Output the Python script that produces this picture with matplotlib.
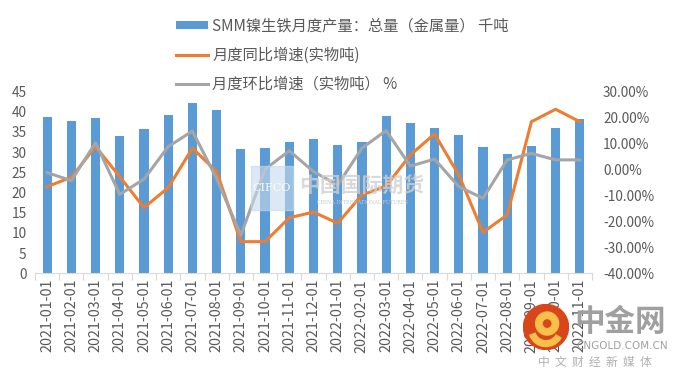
import matplotlib
matplotlib.use("Agg")
import matplotlib.pyplot as plt
from matplotlib.ticker import FuncFormatter, MultipleLocator
from matplotlib.patches import Circle, Rectangle, Wedge
import numpy as np

plt.rcParams['font.family'] = ['Noto Sans CJK SC', 'DejaVu Sans']

months = ["2021-01-01", "2021-02-01", "2021-03-01", "2021-04-01", "2021-05-01", "2021-06-01",
          "2021-07-01", "2021-08-01", "2021-09-01", "2021-10-01", "2021-11-01", "2021-12-01",
          "2022-01-01", "2022-02-01", "2022-03-01", "2022-04-01", "2022-05-01", "2022-06-01",
          "2022-07-01", "2022-08-01", "2022-09-01", "2022-10-01", "2022-11-01"]
# 千吨（金属量）
output_kt = [38.6, 37.8, 38.4, 33.9, 35.8, 39.1, 42.1, 40.5, 30.7, 31.1, 32.4, 33.2,
             31.8, 32.6, 39.0, 37.3, 36.1, 34.3, 31.2, 29.6, 31.6, 35.9, 38.2]
# 同比 %
yoy_pct = [-6.6, -3.0, 8.8, -2.8, -14.7, -7.0, 8.2, -0.8, -27.8, -27.8, -18.6, -16.4,
           -20.7, -9.8, -6.4, 5.6, 13.7, -2.1, -24.2, -17.5, 18.4, 23.2, 18.4]
# 环比 %
mom_pct = [-1.2, -4.3, 10.3, -9.6, -3.7, 8.8, 14.8, -3.5, -25.3, 0.1, 7.2, -0.8,
           -6.0, 8.2, 15.0, 1.3, 4.0, -6.6, -11.1, 3.7, 6.2, 3.7, 3.7]

label_bar = "SMM镍生铁月度产量：总量（金属量） 千吨"
label_yoy = "月度同比增速(实物吨)"
label_mom = "月度环比增速（实物吨） %"

text_color = "#595959"
x = np.arange(len(months))

fig = plt.figure(figsize=(6.8, 3.77), dpi=100)
ax = fig.add_axes([0.0515, 0.275, 0.819, 0.482])
ax2 = ax.twinx()

bars = ax.bar(x, output_kt, width=0.38, color="#5b9bd5", label=label_bar, zorder=2)
l1, = ax2.plot(x, yoy_pct, color="#ed7d31", lw=2.2, label=label_yoy, zorder=3)
l2, = ax2.plot(x, mom_pct, color="#a5a5a5", lw=2.2, label=label_mom, zorder=3)

ax.set_xlim(-0.5, len(months) - 0.5)
ax.set_ylim(0, 45)
ax.yaxis.set_major_locator(MultipleLocator(5))
ax2.set_ylim(-40, 30)
ax2.yaxis.set_major_locator(MultipleLocator(10))
ax2.yaxis.set_major_formatter(FuncFormatter(lambda v, p: f"{v:.2f}%"))

for a in (ax, ax2):
    for s in ("top", "left", "right"):
        a.spines[s].set_visible(False)
ax2.spines["bottom"].set_visible(False)
ax.spines["bottom"].set_color("#d9d9d9")

ax.set_xticks(np.arange(len(months) + 1) - 0.5)
ax.set_xticklabels([])
ax.set_xticks(x, minor=True)
ax.set_xticklabels(months, minor=True, rotation=90, fontsize=10.3, color=text_color)
ax.tick_params(axis="x", which="major", length=5, color="#d9d9d9")
ax.tick_params(axis="x", which="minor", length=0, pad=4)
ax.tick_params(axis="y", length=0, labelsize=9.8, labelcolor=text_color, pad=6)
ax2.tick_params(axis="y", length=0, labelsize=9.8, labelcolor=text_color, pad=8)

leg = fig.legend(handles=[bars, l1, l2], loc="upper left", bbox_to_anchor=(0.238, 0.99),
                 frameon=False, fontsize=11, labelcolor=text_color, handlelength=2.1,
                 handleheight=0.45, labelspacing=0.8, handletextpad=0.3)

# 水印
fig.patches.append(Rectangle((251 / 680, 1 - 210 / 377), 42 / 680, 44 / 377,
                             transform=fig.transFigure, color="#c6d9ec", alpha=0.6, zorder=1))
fig.text(272 / 680, 1 - 188 / 377, "CIFCO", fontsize=8, color="white", ha="center", va="center",
         family="DejaVu Serif", alpha=0.9)
fig.text(362 / 680, 1 - 185 / 377, "中国国际期货", fontsize=15, color="#d0d0d0", ha="center",
         va="center", fontweight="bold", alpha=0.8)
fig.text(362 / 680, 1 - 203 / 377, "CHINA INTERNATIONAL FUTURES", fontsize=3.5, color="#c8c8c8",
         ha="center", va="center", family="DejaVu Serif")

logo = fig.add_axes([523 / 680, 1 - 350 / 377, 46 / 680, 46 / 377])
logo.set_xlim(-1, 1)
logo.set_ylim(-1, 1)
logo.set_aspect("equal")
logo.axis("off")
logo.add_patch(Circle((0, 0), 0.98, color="#d9461c"))
logo.add_patch(Wedge((0.05, 0.15), 0.5, 0, 360, width=0.28, color="#f7c04a"))
logo.add_patch(Wedge((0.0, -0.1), 0.75, 200, 330, width=0.25, color="#f7c04a"))

fig.text(620 / 680, 1 - 322 / 377, "中金网", fontsize=22, color="#a0a0a0", ha="center",
         va="center", fontweight="bold", zorder=6)
fig.text(622 / 680, 1 - 346 / 377, "CNGOLD.COM.CN", fontsize=7.5, color="#a0a0a0", ha="center",
         va="center", family="DejaVu Sans", zorder=6)
fig.text(595 / 680, 1 - 362 / 377, "中  文  财  经  新  媒  体", fontsize=8.5, color="#b0b0b0",
         ha="center", va="center", zorder=6)

fig.savefig("out.png", dpi=100)
